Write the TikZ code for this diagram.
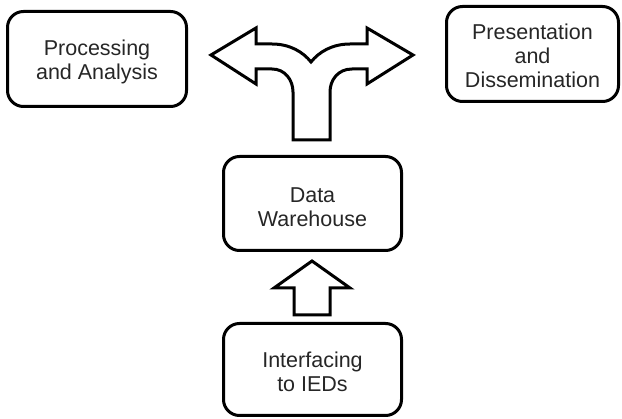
\documentclass[tikz,border=0pt]{standalone}
\usepackage{fontspec}
\setmainfont{Liberation Sans}
\begin{document}
\begin{tikzpicture}[x=1pt,y=-1pt,
  box/.style={draw=black, line width=3pt, rounded corners=16pt, inner sep=0pt},
  boxtext/.style={align=center, inner sep=0pt,
    font=\fontsize{21.5}{24}\selectfont, text=black!85},
  bigarrow/.style={draw=black, line width=3pt, fill=white, line join=miter}]
\useasboundingbox (0,0) rectangle (622,419);

% the four rounded boxes and their captions
\node[box, minimum width=179pt, minimum height=95pt] (proc) at (97,59) {};
\node[boxtext] (proctext) at ([yshift=-3pt]proc.center) {Processing\\and Analysis};
\node[box, minimum width=172pt, minimum height=95pt] (pres) at (532.5,54) {};
\node[boxtext] (prestext) at ([yshift=-1.5pt]pres.center) {Presentation\\and\\Dissemination};
\node[box, minimum width=178pt, minimum height=94pt] (dw) at (312.5,203.5) {};
\node[boxtext] (dwtext) at ([yshift=-3.5pt]dw.center) {Data\\Warehouse};
\node[box, minimum width=178pt, minimum height=92pt] (ied) at (312.5,369.5) {};
\node[boxtext] (iedtext) at ([yshift=-2.5pt]ied.center) {Interfacing\\to IEDs};

% forked arrow from the warehouse to both consumers
\draw[bigarrow] (211,55) -- (256,28) -- (256,44) -- (272,44)
  .. controls (290,44) and (303,52) .. (311,62)
  .. controls (319,52) and (332,44) .. (350,44)
  -- (367,44) -- (367,28) -- (413,55) -- (367,84) -- (367,69) -- (352,69)
  .. controls (338,69) and (330,80) .. (330,92)
  -- (330,140) -- (293,140) -- (293,92)
  .. controls (293,80) and (285,69) .. (272,69)
  -- (256,69) -- (256,84) -- cycle;

% block arrow from the interfacing layer up to the warehouse
\draw[bigarrow] (312,261) -- (350,288) -- (330,288) -- (330,315)
  -- (294,315) -- (294,288) -- (274,288) -- cycle;
\end{tikzpicture}
\end{document}
